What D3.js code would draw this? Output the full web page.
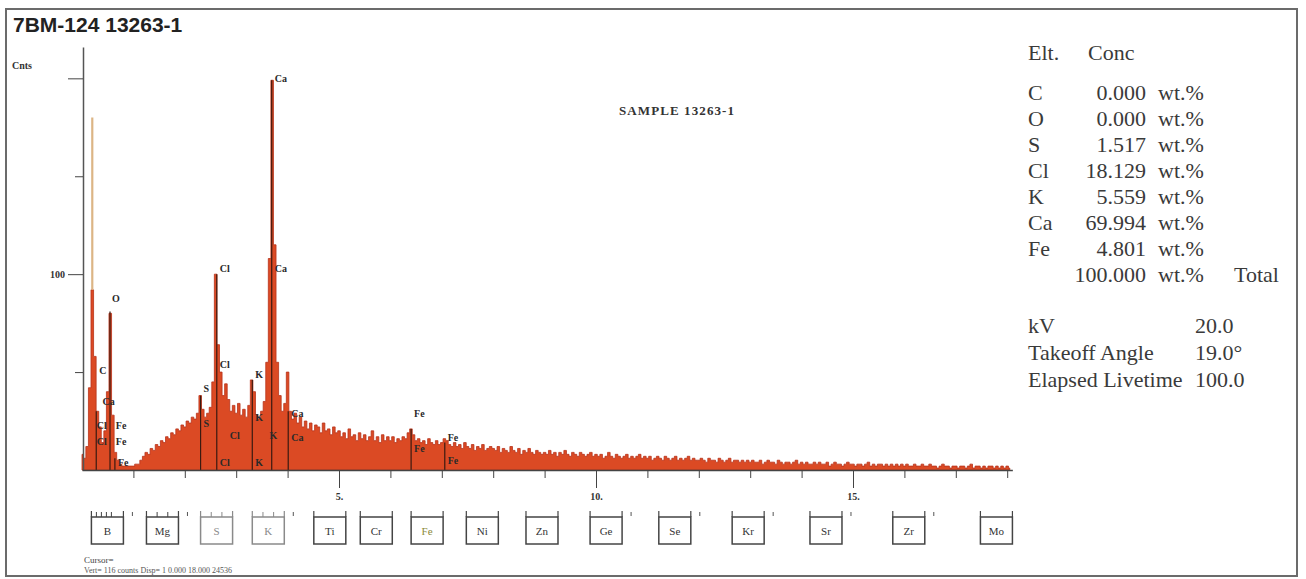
<!DOCTYPE html>
<html>
<head>
<meta charset="utf-8">
<script src="https://cdn.jsdelivr.net/npm/d3@7"></script>
<style>
  body { margin: 0; background: #fff; }
  svg { display: block; }
</style>
</head>
<body>
<div id="chart"></div>
<script>
// EDS spectrum, one value per 0.05 keV channel starting at 0 keV
const channelWidth = 0.05;
const counts = [
  8, 6, 12, 42, 92, 58, 30, 22, 14, 20, 40, 80, 28, 9, 5, 3, 2, 2, 2, 2,
  2, 3, 3, 5, 7, 9, 8, 11, 10, 13, 12, 15, 14, 17, 16, 19, 18, 21, 20, 23,
  22, 25, 24, 27, 26, 29, 38, 31, 27, 29, 32, 45, 100, 64, 50, 38, 44, 36, 30, 33,
  29, 34, 28, 31, 27, 33, 46, 40, 28, 26, 30, 35, 55, 108, 199, 115, 55, 38, 30, 34,
  50, 30, 26, 29, 24, 27, 22, 25, 21, 24, 20, 23, 22, 19, 24, 20, 21, 18, 22, 19,
  20, 17, 19, 16, 21, 17, 18, 15, 19, 16, 18, 15, 17, 20, 15, 17, 14, 18, 15, 17,
  15, 17, 14, 16, 15, 17, 16, 19, 21, 18, 15, 16, 14, 15, 13, 16, 14, 13, 15, 13,
  14, 16, 15, 13, 12, 14, 12, 13, 11, 14, 12, 11, 13, 10, 12, 11, 13, 10, 11, 12,
  11, 10, 12, 9, 11, 10, 9, 12, 10, 9, 11, 8, 10, 9, 11, 9, 8, 10, 9, 8,
  9, 8, 10, 8, 9, 7, 9, 8, 10, 8, 7, 9, 8, 7, 9, 8, 7, 8, 9, 7,
  8, 7, 8, 6, 7, 9, 7, 6, 8, 7, 6, 7, 8, 6, 7, 6, 7, 8, 6, 7,
  6, 7, 5, 6, 7, 6, 5, 7, 6, 5, 6, 7, 5, 6, 5, 6, 7, 5, 6, 5,
  5, 6, 5, 4, 6, 5, 5, 4, 6, 5, 4, 5, 6, 4, 5, 5, 4, 5, 4, 5,
  4, 5, 4, 4, 5, 3, 4, 5, 4, 4, 3, 5, 4, 3, 4, 4, 3, 4, 5, 3,
  4, 3, 4, 3, 3, 4, 3, 4, 3, 3, 4, 2, 3, 4, 3, 3, 2, 3, 4, 3,
  3, 2, 3, 3, 2, 3, 4, 2, 3, 2, 3, 3, 2, 3, 2, 3, 2, 3, 2, 3,
  2, 3, 2, 2, 3, 2, 2, 3, 2, 2, 3, 2, 2, 1, 2, 3, 2, 2, 1, 2,
  2, 1, 2, 2, 1, 2, 3, 1, 2, 2, 1, 2, 1, 2, 2, 1, 2, 1, 2, 1,
  2, 1
];

// noise (zero) peak drawn as a thin line: [keV, counts]
const noisePeak = [0.2, 180];

// KLM marker lines: [element, keV, counts at top]
const markerLines = [
  ["C", 0.277, 30], ["O", 0.545, 81], ["Fe", 0.64, 6],
  ["S", 2.307, 38], ["Cl", 2.622, 100], ["K", 3.313, 46],
  ["Ca", 3.691, 199], ["Ca", 4.012, 30], ["Fe", 6.403, 21], ["Fe", 7.058, 14]
];

// marker labels: [text, keV, counts at baseline]
const markerLabels = [
  ["Ca", 3.691, 198], ["Ca", 3.691, 101], ["Cl", 2.622, 101], ["Cl", 2.622, 52],
  ["K", 3.313, 47], ["S", 2.307, 40], ["O", 0.525, 86], ["C", 0.277, 49],
  ["Ca", 0.341, 33], ["Cl", 0.23, 21], ["Fe", 0.6, 21], ["Cl", 0.23, 13],
  ["Fe", 0.6, 13], ["Fe", 0.64, 2], ["Ca", 4.012, 27], ["Ca", 4.012, 15],
  ["S", 2.307, 22], ["Cl", 2.815, 16], ["Cl", 2.622, 2], ["K", 3.313, 25],
  ["K", 3.313, 2], ["K", 3.59, 16], ["Fe", 6.403, 27], ["Fe", 6.403, 9],
  ["Fe", 7.058, 15], ["Fe", 7.058, 3]
];

// element palette under the axis
const paletteElements = ["B", "Mg", "S", "K", "Ti", "Cr", "Fe", "Ni", "Zn", "Ge", "Se", "Kr", "Sr", "Zr", "Mo"];
const paletteEnergies = [0.183, 1.254, 2.307, 3.313, 4.510, 5.414, 6.403, 7.477, 8.638, 9.885, 11.222, 12.649, 14.163, 15.774, 17.479];
const paletteWithMark = ["B", "Mg", "K", "Ge", "Se", "Kr", "Sr", "Zr"];

const yTicksMajor = [100, 200];
const yTicksMinor = [50, 150];
const xTicksMajor = [5, 10, 15];
const xTicksMinor = d3.range(1, 19);

// quantification table
const elements = ["C", "O", "S", "Cl", "K", "Ca", "Fe"];
const concentrations = [0.000, 0.000, 1.517, 18.129, 5.559, 69.994, 4.801];
const concTotal = 100.000;
const conditionLabels = ["kV", "Takeoff Angle", "Elapsed Livetime"];
const conditionValues = ["20.0", "19.0\u00b0", "100.0"];

render();

function render() {
    const width = 1306, height = 579;
    const serif = "'Liberation Serif', 'Times New Roman', serif";

    const svg = d3.select("#chart").append("svg")
        .attr("width", width)
        .attr("height", height);

    svg.append("rect")
        .attr("x", 6).attr("y", 9)
        .attr("width", 1291).attr("height", 567)
        .attr("fill", "none")
        .attr("stroke", "#6b6b6b")
        .attr("stroke-width", 2);

    svg.append("text")
        .attr("x", 13).attr("y", 32)
        .style("font-family", "'Liberation Sans', Arial, sans-serif")
        .style("font-weight", "bold")
        .style("font-size", "21px")
        .style("fill", "#222")
        .text("7BM-124 13263-1");

    const x = d3.scaleLinear().domain([0, 18.1]).range([82, 82 + 51.4 * 18.1]);
    const y = d3.scaleLinear().domain([0, 216]).range([470, 47]);

    // spectrum
    const area = d3.area()
        .x((d, i) => x(i * channelWidth))
        .y0(y(0))
        .y1(d => y(d))
        .curve(d3.curveStep);

    svg.append("path")
        .datum(counts)
        .attr("d", area)
        .attr("fill", "#db4a24")
        .attr("stroke", "#b8321a")
        .attr("stroke-width", 0.8);

    const noiseChannel = Math.round(noisePeak[0] / channelWidth);
    svg.append("line")
        .attr("x1", x(noisePeak[0])).attr("x2", x(noisePeak[0]))
        .attr("y1", y(counts[noiseChannel])).attr("y2", y(noisePeak[1]))
        .attr("stroke", "#dcb585")
        .attr("stroke-width", 2.2);

    svg.append("g").selectAll("line")
        .data(markerLines)
        .join("line")
        .attr("x1", d => x(d[1])).attr("x2", d => x(d[1]))
        .attr("y1", y(0)).attr("y2", d => y(d[2]))
        .attr("stroke", "#3a1a10")
        .attr("stroke-width", 1.2);

    svg.append("g").selectAll("text")
        .data(markerLabels)
        .join("text")
        .attr("x", d => x(d[1]) + 3)
        .attr("y", d => y(d[2]))
        .style("font-family", serif)
        .style("font-weight", "bold")
        .style("font-size", "10px")
        .style("fill", "#2a2a2a")
        .text(d => d[0]);

    // y axis
    const yMajor = svg.append("g")
        .attr("transform", "translate(83,0)")
        .call(d3.axisLeft(y).tickValues(yTicksMajor).tickSize(15).tickSizeOuter(0)
            .tickFormat(d => d === 100 ? "100" : ""));
    yMajor.select(".domain").attr("stroke", "#555").attr("stroke-width", 1.5);
    svg.append("g")
        .attr("transform", "translate(83,0)")
        .call(d3.axisLeft(y).tickValues(yTicksMinor).tickSize(8).tickFormat(""))
        .select(".domain").remove();

    svg.append("text")
        .attr("x", 12).attr("y", 69)
        .style("font-family", serif)
        .style("font-weight", "bold")
        .style("font-size", "10px")
        .style("fill", "#333")
        .text("Cnts");

    // x axis
    const xMinor = svg.append("g")
        .attr("transform", "translate(0,470)")
        .call(d3.axisBottom(x).tickValues(xTicksMinor).tickSize(8).tickSizeOuter(0).tickFormat(""));
    xMinor.select(".domain").attr("stroke", "#444").attr("stroke-width", 1.5);
    svg.append("g")
        .attr("transform", "translate(0,470)")
        .call(d3.axisBottom(x).tickValues(xTicksMajor).tickSize(18).tickPadding(5)
            .tickFormat(d => d + "."))
        .select(".domain").remove();

    svg.selectAll(".tick line").attr("stroke", "#444");
    svg.selectAll(".tick text")
        .style("font-family", serif)
        .style("font-weight", "bold")
        .style("font-size", "10px")
        .style("fill", "#333");

    svg.append("text")
        .attr("x", 619).attr("y", 115)
        .style("font-family", serif)
        .style("font-weight", "bold")
        .style("font-size", "13px")
        .style("letter-spacing", "1.1px")
        .style("fill", "#333")
        .text("SAMPLE 13263-1");

    // element palette
    const boxW = 32, boxTop = 517, boxH = 27;
    const pal = svg.append("g").selectAll("g")
        .data(paletteElements)
        .join("g")
        .attr("transform", (d, i) => `translate(${x(paletteEnergies[i])},${boxTop})`);

    const boxColor = d => (d === "S" || d === "K") ? "#8a8a8a" : "#444";
    pal.append("rect")
        .attr("width", boxW).attr("height", boxH)
        .attr("fill", "none")
        .attr("stroke", boxColor)
        .attr("stroke-width", 1.5);
    pal.append("path")
        .attr("d", `M0,0V-6M${boxW},0V-6`)
        .attr("stroke", boxColor)
        .attr("stroke-width", 1.2);
    pal.filter(d => ["B", "Mg", "S", "K"].includes(d))
        .append("path")
        .attr("d", d => d === "B" ? "M5,0V-5M10,0V-5M15,0V-5M20,0V-5" : `M${boxW / 3},0V-5M${2 * boxW / 3},0V-5`)
        .attr("stroke", boxColor)
        .attr("stroke-width", 1);
    pal.filter(d => paletteWithMark.includes(d))
        .append("line")
        .attr("x1", boxW + 9).attr("x2", boxW + 9)
        .attr("y1", -5).attr("y2", -1)
        .attr("stroke", "#555");
    pal.append("text")
        .attr("x", boxW / 2).attr("y", 18)
        .attr("text-anchor", "middle")
        .style("font-family", serif)
        .style("font-size", "11px")
        .style("fill", d => d === "Fe" ? "#8a8a3a" : (d === "S" || d === "K") ? "#8a8a8a" : "#333")
        .text(d => d);

    svg.append("text")
        .attr("x", 84).attr("y", 563)
        .style("font-family", serif)
        .style("font-size", "9px")
        .style("fill", "#444")
        .text("Cursor=");
    svg.append("text")
        .attr("x", 84).attr("y", 573)
        .style("font-family", serif)
        .style("font-size", "8px")
        .style("fill", "#555")
        .text("Vert=   116   counts      Disp= 1      0.000     18.000     24536");

    // quantification panel
    const panel = svg.append("g")
        .style("font-family", serif)
        .style("font-size", "22px")
        .style("fill", "#3a3a3a");

    panel.append("text").attr("x", 1028).attr("y", 60).text("Elt.");
    panel.append("text").attr("x", 1088).attr("y", 60).text("Conc");

    const rows = panel.selectAll("g.row")
        .data(elements)
        .join("g")
        .attr("class", "row")
        .attr("transform", (d, i) => `translate(0,${100 + i * 26})`);
    rows.append("text").attr("x", 1028).text(d => d);
    rows.append("text").attr("x", 1146).attr("text-anchor", "end")
        .text((d, i) => d3.format(".3f")(concentrations[i]));
    rows.append("text").attr("x", 1158).text("wt.%");

    const totalY = 100 + elements.length * 26;
    panel.append("text").attr("x", 1146).attr("y", totalY).attr("text-anchor", "end")
        .text(d3.format(".3f")(concTotal));
    panel.append("text").attr("x", 1158).attr("y", totalY).text("wt.%");
    panel.append("text").attr("x", 1234).attr("y", totalY).text("Total");

    conditionLabels.forEach((label, i) => {
        panel.append("text").attr("x", 1028).attr("y", 333 + i * 27).text(label);
        panel.append("text").attr("x", 1195).attr("y", 333 + i * 27).text(conditionValues[i]);
    });
}
</script>
</body>
</html>
